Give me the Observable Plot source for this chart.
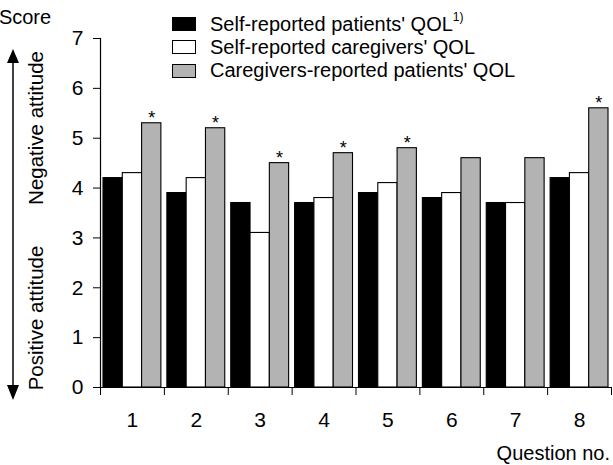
<!DOCTYPE html>
<html>
<head>
<meta charset="utf-8">
<script src="https://cdn.jsdelivr.net/npm/d3@7"></script>
<script src="https://cdn.jsdelivr.net/npm/@observablehq/plot@0.6"></script>
<style>
  html, body { margin: 0; padding: 0; background: #fff; }
  #wrap { position: relative; width: 613px; height: 465px; font-family: "Liberation Sans", Arial, Helvetica, sans-serif; }
  #legend { position: absolute; left: 172px; top: 12px; font-size: 20px; color: #000; }
  .row { display: flex; align-items: center; height: 23.5px; }
  .sw { width: 22px; height: 12px; border: 1.2px solid #000; margin-right: 14px; box-sizing: content-box; }
  sup { font-size: 12px; position: relative; top: -2px; }
</style>
</head>
<body>
<div id="wrap"></div>
<script>
const questions = [1, 2, 3, 4, 5, 6, 7, 8];
const seriesNames = ["Self-reported patients' QOL", "Self-reported caregivers' QOL", "Caregivers-reported patients' QOL"];
const seriesColors = ["#000000", "#ffffff", "#b3b3b3"];
const patientsSelf = [4.2, 3.9, 3.7, 3.7, 3.9, 3.8, 3.7, 4.2];
const caregiversSelf = [4.3, 4.2, 3.1, 3.8, 4.1, 3.9, 3.7, 4.3];
const caregiversReported = [5.3, 5.2, 4.5, 4.7, 4.8, 4.6, 4.6, 5.6];
const significant = [true, true, true, true, true, false, false, true];
const yTicks = [0, 1, 2, 3, 4, 5, 6, 7];

const valuesBySeries = [patientsSelf, caregiversSelf, caregiversReported];
const gap = 3 / 64, bw = (1 - 2 * gap) / 3;
const rows = [];
valuesBySeries.forEach((vals, k) => vals.forEach((v, i) => {
  const x1 = questions[i] - 0.5 + gap + k * bw;
  rows.push({q: questions[i], series: seriesNames[k], k, value: v, x1, x2: x1 + bw});
}));
const stars = questions.map((q, i) => ({q, value: caregiversReported[i], sig: significant[i],
  xc: q - 0.5 + gap + 2.5 * bw})).filter(d => d.sig);
const boundaries = [0.5, ...questions.map(q => q + 0.5)];

const chart = Plot.plot({
  width: 613,
  height: 465,
  marginLeft: 100,
  marginRight: 2,
  marginTop: 38,
  marginBottom: 78,
  style: {fontFamily: "'Liberation Sans', Arial, Helvetica, sans-serif", fontSize: "21px", color: "#000", background: "#fff"},
  x: {type: "linear", domain: [0.5, 8.5]},
  y: {domain: [0, 7]},
  color: {domain: seriesNames, range: seriesColors},
  marks: [
    Plot.rectY(rows, {x1: "x1", x2: "x2", y1: 0, y2: "value", fill: "series", stroke: "#000", strokeWidth: 1.1}),
    Plot.ruleY([0], {stroke: "#000", strokeWidth: 1.2}),
    Plot.ruleX([0.5], {stroke: "#000", strokeWidth: 1.2}),
    Plot.axisY({ticks: yTicks, tickSize: 7, tickPadding: 10, label: null, tickFormat: d => d}),
    Plot.axisX({ticks: boundaries, tickSize: 8, tickFormat: () => "", label: null}),
    Plot.axisX({ticks: questions, tickSize: 0, tickPadding: 25, label: null, tickFormat: d => d}),
    Plot.text(stars, {x: "xc", y: "value", text: () => "*", fontSize: 18, dy: -5, lineAnchor: "middle"})
  ]
});

const wrap = document.getElementById("wrap");
wrap.appendChild(chart);

const svg = d3.select(chart);
const font = "'Liberation Sans', Arial, Helvetica, sans-serif";
svg.append("text").attr("x", 25).attr("y", 17).attr("dominant-baseline", "central")
  .attr("font-family", font).attr("font-size", 20).text("Score");
svg.append("text").attr("x", 610).attr("y", 453).attr("dominant-baseline", "central").attr("text-anchor", "end")
  .attr("font-family", font).attr("font-size", 20).text("Question no.");
// attitude arrow
svg.append("line").attr("x1", 13).attr("x2", 13).attr("y1", 60).attr("y2", 388).attr("stroke", "#000").attr("stroke-width", 1.5);
svg.append("polygon").attr("points", "13,49 7,63 19,63").attr("fill", "#000");
svg.append("polygon").attr("points", "13,400 7,385 19,385").attr("fill", "#000");
svg.append("text").attr("transform", "translate(35,128) rotate(-90)").attr("text-anchor", "middle")
  .attr("dominant-baseline", "central").attr("font-family", font).attr("font-size", 20.5).text("Negative attitude");
svg.append("text").attr("transform", "translate(35,318) rotate(-90)").attr("text-anchor", "middle")
  .attr("dominant-baseline", "central").attr("font-family", font).attr("font-size", 20.5).text("Positive attitude");

// legend
const legend = document.createElement("div");
legend.id = "legend";
seriesNames.forEach((name, k) => {
  const row = document.createElement("div");
  row.className = "row";
  const sw = document.createElement("div");
  sw.className = "sw";
  sw.style.background = seriesColors[k];
  const label = document.createElement("span");
  label.textContent = name;
  row.appendChild(sw);
  row.appendChild(label);
  if (k === 0) {
    const s = document.createElement("sup");
    s.textContent = "1)";
    label.appendChild(s);
  }
  legend.appendChild(row);
});
wrap.appendChild(legend);
</script>
</body>
</html>
